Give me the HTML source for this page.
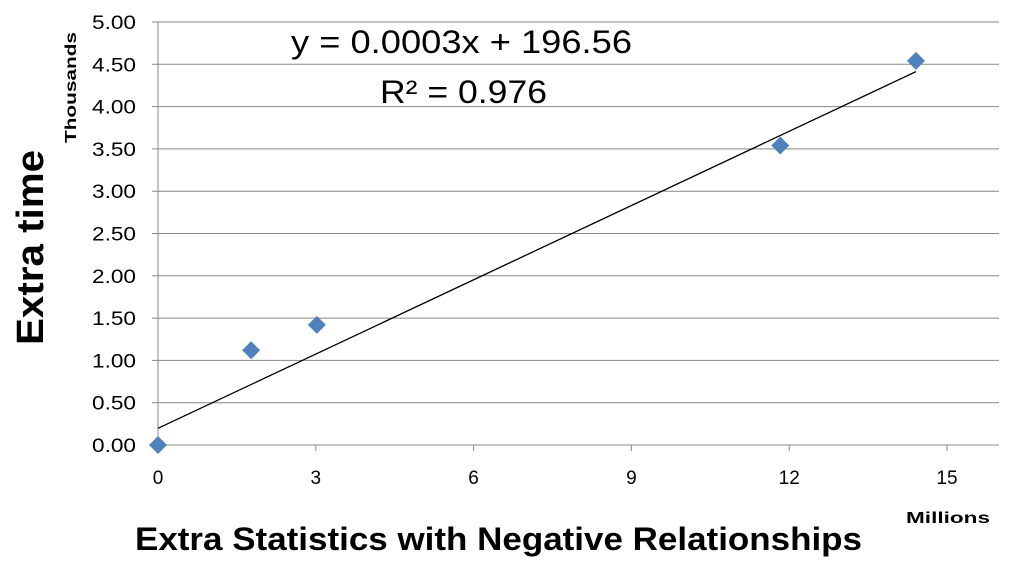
<!DOCTYPE html>
<html><head><meta charset="utf-8"><style>
body{margin:0;background:#fff;}
svg text{font-family:"Liberation Sans",sans-serif;}
</style></head><body>
<svg width="1016" height="564" viewBox="0 0 1016 564" xmlns="http://www.w3.org/2000/svg">
<g id="grid"></g>
<g id="axes"></g>
<g id="trend"></g>
<g id="pts"></g>
<text x="291" y="53" font-size="32" textLength="341" lengthAdjust="spacingAndGlyphs">y = 0.0003x + 196.56</text>
<text x="380" y="103" font-size="32" textLength="167" lengthAdjust="spacingAndGlyphs">R² = 0.976</text>
<text x="76" y="143" font-size="16" font-weight="bold" textLength="111" lengthAdjust="spacingAndGlyphs" transform="rotate(-90 76 143)">Thousands</text>
<text x="43" y="345" font-size="38" font-weight="bold" textLength="195" lengthAdjust="spacingAndGlyphs" transform="rotate(-90 43 345)">Extra time</text>
<text x="906" y="523" font-size="16" font-weight="bold" textLength="84" lengthAdjust="spacingAndGlyphs">Millions</text>
<text x="135" y="550" font-size="32" font-weight="bold" textLength="727" lengthAdjust="spacingAndGlyphs">Extra Statistics with Negative Relationships</text>
</svg>
<script>
const xs=[0,1.77,3.02,11.83,14.41];
const ys=[0,1.12,1.42,3.54,4.54];
const xTicks=[0,3,6,9,12,15];
const yTicks=[0,0.5,1,1.5,2,2.5,3,3.5,4,4.5,5];
const trendIntercept=0.197, trendSlope=0.2926;
const X0=158,X1=999,Y0=445,Y1=22;
const sx=v=>X0+v*(947-158)/15;
const sy=v=>Y0-v*(Y0-Y1)/5;
const NS='http://www.w3.org/2000/svg';
function mk(t,a,p){const e=document.createElementNS(NS,t);for(const k in a)e.setAttribute(k,a[k]);p.appendChild(e);return e;}
const grid=document.getElementById('grid'),axes=document.getElementById('axes');
yTicks.forEach(v=>{
 const y=sy(v);
 if(v>0){const l=mk('line',{x1:X0,x2:X1,y1:y,y2:y,stroke:'#888','stroke-width':1},grid);
 
 }
 mk('line',{x1:X0-6,x2:X0,y1:y,y2:y,stroke:'#888'},axes);
 const t=mk('text',{x:92,y:y+7,'font-size':19,textLength:44,lengthAdjust:'spacingAndGlyphs'},axes);t.textContent=v.toFixed(2);
 
 
});
xTicks.forEach(v=>{
 const x=sx(v);
 mk('line',{x1:x,x2:x,y1:Y0,y2:Y0+6,stroke:'#888'},axes);
 const t=mk('text',{x:x,y:Y0+39,'font-size':19,'text-anchor':'middle'},axes);t.textContent=v;
 
 
});
mk('line',{x1:X0,x2:X0,y1:Y1,y2:Y0,stroke:'#888'},axes);
mk('line',{x1:X0,x2:X1,y1:Y0,y2:Y0,stroke:'#888'},axes);
const xmax=Math.max(...xs);
const tl=mk('line',{x1:sx(0),y1:sy(trendIntercept),x2:sx(xmax),y2:sy(trendIntercept+trendSlope*xmax),stroke:'#000','stroke-width':1.3},document.getElementById('trend'));


const pts=document.getElementById('pts');
xs.forEach((v,i)=>{
 const x=sx(v),y=sy(ys[i]),r=9;
 const p=mk('polygon',{points:`${x},${y-r} ${x+r},${y} ${x},${y+r} ${x-r},${y}`,fill:'#4f81bd'},pts);
 
 
});
</script>
</body></html>
